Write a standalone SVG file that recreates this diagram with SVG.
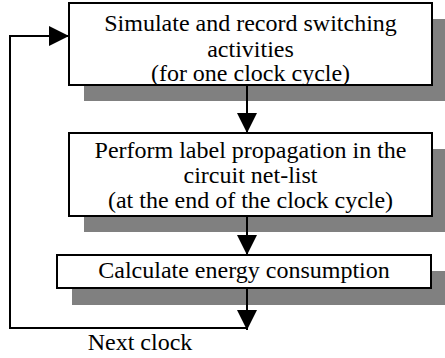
<svg xmlns="http://www.w3.org/2000/svg" width="445" height="358" viewBox="0 0 445 358">
<style>
.box{fill:#fff;stroke:#000;stroke-width:2}
.shadow{fill:#808080;stroke:none}
.t{font-family:"Liberation Serif","Times New Roman",serif;font-size:24px;fill:#000;text-anchor:middle}
.ln{fill:none;stroke:#000;stroke-width:2}
</style>
<defs>
<marker id="ah" markerUnits="userSpaceOnUse" markerWidth="20" markerHeight="20" refX="20" refY="10" orient="auto">
<path d="M0,0 L20,10 L0,20 Z" fill="#000"/>
</marker>
</defs>
<rect width="445" height="358" fill="#fff"/>
<g id="node1">
<rect class="shadow" x="84" y="19" width="364" height="82"/>
<rect class="box" x="69" y="3" width="363" height="82"/>
<text class="t" x="250.5" y="31">Simulate and record switching</text>
<text class="t" x="250.5" y="57">activities</text>
<text class="t" x="250.5" y="81">(for one clock cycle)</text>
</g>
<g id="node2">
<rect class="shadow" x="84" y="149" width="364" height="83"/>
<rect class="box" x="69" y="133" width="363" height="83"/>
<text class="t" x="250.5" y="158">Perform label propagation in the</text>
<text class="t" x="250.5" y="183">circuit net-list</text>
<text class="t" x="250.5" y="208">(at the end of the clock cycle)</text>
</g>
<g id="node3">
<rect class="shadow" x="72" y="271" width="376" height="34"/>
<rect class="box" x="57" y="255" width="374" height="33"/>
<text class="t" x="244" y="278">Calculate energy consumption</text>
</g>
<g id="connectors">
<line class="ln" x1="247" y1="85" x2="247" y2="133" marker-end="url(#ah)"/>
<line class="ln" x1="247" y1="216" x2="247" y2="255" marker-end="url(#ah)"/>
<line class="ln" x1="247" y1="288" x2="247" y2="330" marker-end="url(#ah)"/>
<polyline class="ln" points="247,328 10,328 10,36 69,36" marker-end="url(#ah)"/>
</g>
<text class="t" x="140" y="350">Next clock</text>
</svg>
